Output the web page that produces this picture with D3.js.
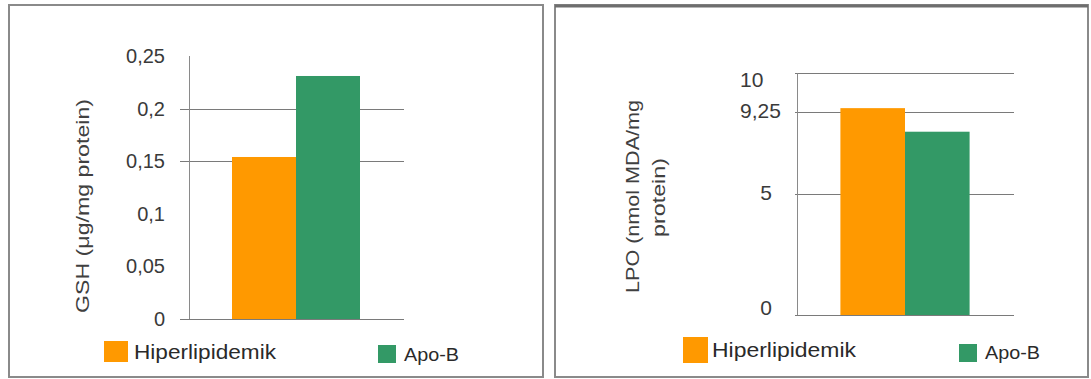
<!DOCTYPE html>
<html>
<head>
<meta charset="utf-8">
<script src="https://cdn.jsdelivr.net/npm/d3@7"></script>
<style>
  html, body { margin: 0; padding: 0; background: #fff; }
  svg { display: block; font-family: "Liberation Sans", Arial, sans-serif; }
</style>
</head>
<body>
<svg id="chart" width="1091" height="379"></svg>
<script>
// ---------- data ----------
const seriesNames  = ["Hiperlipidemik", "Apo-B"];
const seriesColors = ["#ff9900", "#339966"];

const gshValues     = [0.154, 0.231];
const gshTicks      = [0, 0.05, 0.1, 0.15, 0.2, 0.25];
const gshTickLabels = ["0", "0,05", "0,1", "0,15", "0,2", "0,25"];
const gshGridValues = [0.15, 0.2];
const gshTitle      = ["GSH (μg/mg protein)"];

const lpoValues     = [9.33, 8.24];
const lpoTicks      = [0, 5, 9.25, 10];
const lpoTickLabels = ["0", "5", "9,25", "10"];
const lpoGridValues = [5, 9.25, 10];
const lpoTitle      = ["LPO (nmol MDA/mg", "protein)"];

// ---------- layout ----------
const panels = [
  {
    values: gshValues, ticks: gshTicks, labels: gshTickLabels, grid: gshGridValues, title: gshTitle,
    box: { x: 9, y: 5, w: 534, h: 372 },
    yDomain: [0, 0.25], yRange: [319, 56],
    x0: 189, x1: 403, gx0: 180, gx1: 404,
    tickPad: 24, tickFont: 20,
    labelAdjust: () => ({ dy: 0 }),
    titleLines: [{ cx: 82, cy: 206, len: 214 }], titleFont: 19,
    legend: [
      { sx: 104, sy: 341, sw: 24, sh: 21, tx: 134, ty: 359, font: 21, len: 142 },
      { sx: 378, sy: 345, sw: 18, sh: 18, tx: 404, ty: 361, font: 19, len: 55 }
    ]
  },
  {
    values: lpoValues, ticks: lpoTicks, labels: lpoTickLabels, grid: lpoGridValues, title: lpoTitle,
    box: { x: 555, y: 5, w: 533, h: 372 },
    yDomain: [0, 5, 9.25, 10], yRange: [315, 194, 112.3, 73.3],
    x0: 797, x1: 1013, gx0: 795, gx1: 1014,
    tickPad: 25, tickFont: 21,
    labelAdjust: (v) => v > 5 ? { x: 740, anchor: "start", dy: v === 10 ? 6 : -2 } : { dy: v === 0 ? -7 : -1 },
    titleLines: [{ cx: 633, cy: 196.5, len: 193 }, { cx: 658.5, cy: 197.5, len: 79 }], titleFont: 18,
    legend: [
      { sx: 683, sy: 337, sw: 25, sh: 26, tx: 712, ty: 357, font: 21, len: 144 },
      { sx: 959, sy: 344, sw: 18, sh: 18, tx: 985, ty: 359, font: 19, len: 55 }
    ]
  }
];

const svg = d3.select("#chart");
svg.append("rect").attr("width", 1091).attr("height", 379).attr("fill", "#fff");

panels.forEach((p, pi) => {
  const g = svg.append("g");

  // frame
  g.append("rect")
    .attr("x", p.box.x).attr("y", p.box.y).attr("width", p.box.w).attr("height", p.box.h)
    .attr("fill", "#fff").attr("stroke", "#8a8a8a").attr("stroke-width", 2);
  if (pi === 1) {
    g.append("line").attr("x1", p.box.x).attr("x2", p.box.x + p.box.w)
      .attr("y1", p.box.y + 1).attr("y2", p.box.y + 1)
      .attr("stroke", "#6e6e6e").attr("stroke-width", 3);
  }

  const y = d3.scaleLinear().domain(p.yDomain).range(p.yRange);
  const yMax = p.yDomain[p.yDomain.length - 1];

  // gridlines
  g.selectAll(".grid").data(p.grid).join("line")
    .attr("x1", p.gx0).attr("x2", p.gx1)
    .attr("y1", d => Math.round(y(d)) + 0.5).attr("y2", d => Math.round(y(d)) + 0.5)
    .attr("stroke", "#7a7a7a").attr("stroke-width", 1);

  // baseline and vertical axis line
  g.append("line").attr("x1", p.gx0).attr("x2", p.gx1)
    .attr("y1", Math.round(y(0)) + 0.5).attr("y2", Math.round(y(0)) + 0.5)
    .attr("stroke", "#7a7a7a").attr("stroke-width", 1);
  g.append("line").attr("x1", p.x0 + 0.5).attr("x2", p.x0 + 0.5)
    .attr("y1", y(yMax)).attr("y2", y(0))
    .attr("stroke", "#8a8a8a").attr("stroke-width", 1);

  // tick labels through d3 axis
  const axis = d3.axisLeft(y).tickValues(p.ticks)
    .tickFormat((d, i) => p.labels[i]).tickSize(0).tickPadding(p.tickPad);
  const ag = g.append("g").attr("transform", `translate(${p.x0},0)`).call(axis);
  ag.select(".domain").remove();
  ag.selectAll("text")
    .attr("font-size", p.tickFont)
    .attr("font-family", "'Liberation Sans', Arial, sans-serif")
    .attr("fill", "#3a3a3a")
    .each(function(d) {
      const a = p.labelAdjust(d);
      const t = d3.select(this);
      if (a.x !== undefined) { t.attr("x", a.x - p.x0).attr("text-anchor", a.anchor); }
      t.attr("transform", `translate(0,${a.dy || 0})`);
    });

  // bars
  const xBand = d3.scaleBand().domain(["g"]).range([p.x0, p.x1]).paddingOuter(0.336).paddingInner(0);
  const xSub = d3.scaleBand().domain(seriesNames).range([0, xBand.bandwidth()]);
  g.selectAll(".bar").data(p.values).join("rect")
    .attr("x", (d, i) => xBand("g") + xSub(seriesNames[i]))
    .attr("width", xSub.bandwidth())
    .attr("y", d => y(d))
    .attr("height", d => y(0) - y(d))
    .attr("fill", (d, i) => seriesColors[i]);

  // y-axis title
  p.title.forEach((line, i) => {
    const L = p.titleLines[i];
    g.append("text")
      .attr("transform", `translate(${L.cx},${L.cy}) rotate(-90)`)
      .attr("text-anchor", "middle").attr("dominant-baseline", "central")
      .attr("font-size", p.titleFont).attr("fill", "#404040")
      .attr("textLength", L.len).attr("lengthAdjust", "spacingAndGlyphs")
      .text(line);
  });

  // legend
  seriesNames.forEach((name, i) => {
    const L = p.legend[i];
    g.append("rect").attr("x", L.sx).attr("y", L.sy).attr("width", L.sw).attr("height", L.sh)
      .attr("fill", seriesColors[i]);
    g.append("text").attr("x", L.tx).attr("y", L.ty)
      .attr("font-size", L.font).attr("fill", "#2a2a2a")
      .attr("textLength", L.len).attr("lengthAdjust", "spacingAndGlyphs")
      .text(name);
  });
});
</script>
</body>
</html>
